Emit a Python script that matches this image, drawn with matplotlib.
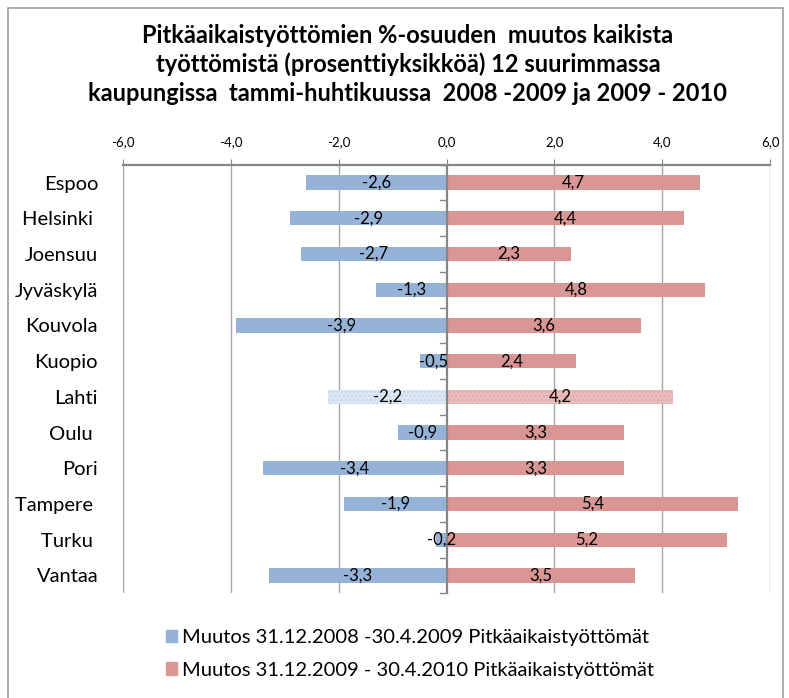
import matplotlib.pyplot as plt
import numpy as np
from matplotlib.patches import Rectangle
from matplotlib.ticker import FuncFormatter

plt.rcParams['font.family'] = ['Lato', 'DejaVu Sans']

# Data
CITIES = ['Espoo', 'Helsinki ', 'Joensuu', 'Jyväskylä', 'Kouvola', 'Kuopio',
          'Lahti', 'Oulu ', 'Pori', 'Tampere ', 'Turku ', 'Vantaa']
CHANGE_2009 = [-2.6, -2.9, -2.7, -1.3, -3.9, -0.5, -2.2, -0.9, -3.4, -1.9, -0.2, -3.3]
CHANGE_2010 = [4.7, 4.4, 2.3, 4.8, 3.6, 2.4, 4.2, 3.3, 3.3, 5.4, 5.2, 3.5]
LEGEND_LABELS = ['Muutos 31.12.2008 -30.4.2009 Pitkäaikaistyöttömät',
                 'Muutos 31.12.2009 - 30.4.2010 Pitkäaikaistyöttömät']
TITLE = ('Pitkäaikaistyöttömien %-osuuden  muutos kaikista\n'
         'työttömistä (prosenttiyksikköä) 12 suurimmassa\n'
         'kaupungissa  tammi-huhtikuussa  2008 -2009 ja 2009 - 2010')

BLUE = '#95b3d7'
RED = '#d99694'
BLUE_LIGHT = '#dce8f6'
RED_LIGHT = '#ebbcbc'
GRID = '#a6a6a6'
AXIS = '#868686'

fig = plt.figure(figsize=(7.89, 6.98), dpi=100)
ax = fig.add_axes([0.156, 0.150, 0.820, 0.614])

# Chart area border
fig.patches.append(Rectangle((8 / 789, -0.01), 775 / 789, 1 - 8 / 698 + 0.01,
                             transform=fig.transFigure, fill=False,
                             edgecolor='#a0a0a0', linewidth=1.2))

y = np.arange(len(CITIES))
h = 0.4
for i, (a, b) in enumerate(zip(CHANGE_2009, CHANGE_2010)):
    if CITIES[i] == 'Lahti':
        # Lahti drawn with a lighter, textured fill
        ax.barh(i, a, height=h, color=BLUE_LIGHT, hatch='....',
                edgecolor='#c4d6ec', linewidth=0, zorder=3)
        ax.barh(i, b, height=h, color=RED_LIGHT, hatch='....',
                edgecolor='#dfa8a8', linewidth=0, zorder=3)
    else:
        ax.barh(i, a, height=h, color=BLUE, edgecolor='none', zorder=3)
        ax.barh(i, b, height=h, color=RED, edgecolor='none', zorder=3)
    ax.text(a / 2, i, f'{a:.1f}'.replace('.', ','), ha='center', va='center',
            fontsize=12, zorder=5)
    ax.text(b / 2, i, f'{b:.1f}'.replace('.', ','), ha='center', va='center',
            fontsize=12, zorder=5)

ax.set_xlim(-6, 6)
ax.set_ylim(len(CITIES) - 0.5, -0.5)
ax.set_xticks(np.arange(-6, 7, 2))
ax.xaxis.set_major_formatter(FuncFormatter(lambda v, p: f'{v:.1f}'.replace('.', ',')))
ax.xaxis.tick_top()
ax.tick_params(axis='x', length=4, color=AXIS, labelsize=9.5, pad=8)
ax.set_yticks(y)
ax.set_yticklabels(CITIES, fontsize=14.5)
ax.tick_params(axis='y', length=0, pad=18)

for v in [-6, -4, -2, 2, 4, 6]:
    ax.axvline(v, color=GRID, linewidth=1.0, zorder=1)
ax.axvline(0, color=AXIS, linewidth=1.6, zorder=4)
# category tick marks along the zero axis
for b in np.arange(-0.5, len(CITIES), 1.0):
    ax.plot([-0.12, 0], [b, b], color=AXIS, linewidth=1.0, zorder=4,
            clip_on=False)

for s in ['left', 'right', 'bottom']:
    ax.spines[s].set_visible(False)
ax.spines['top'].set_color(AXIS)
ax.spines['top'].set_linewidth(1.6)

fig.text(0.517, 0.966, TITLE, ha='center', va='top', fontsize=17,
         fontweight='bold', linespacing=1.3)

handles = [Rectangle((0, 0), 1, 1, color=BLUE), Rectangle((0, 0), 1, 1, color=RED)]
fig.legend(handles, LEGEND_LABELS, loc='center', bbox_to_anchor=(0.52, 0.063),
           ncol=1, frameon=False, fontsize=14.5, handlelength=0.55,
           handleheight=0.55, handletextpad=0.25, labelspacing=0.75)

fig.savefig('out.png', dpi=100, facecolor='white')
